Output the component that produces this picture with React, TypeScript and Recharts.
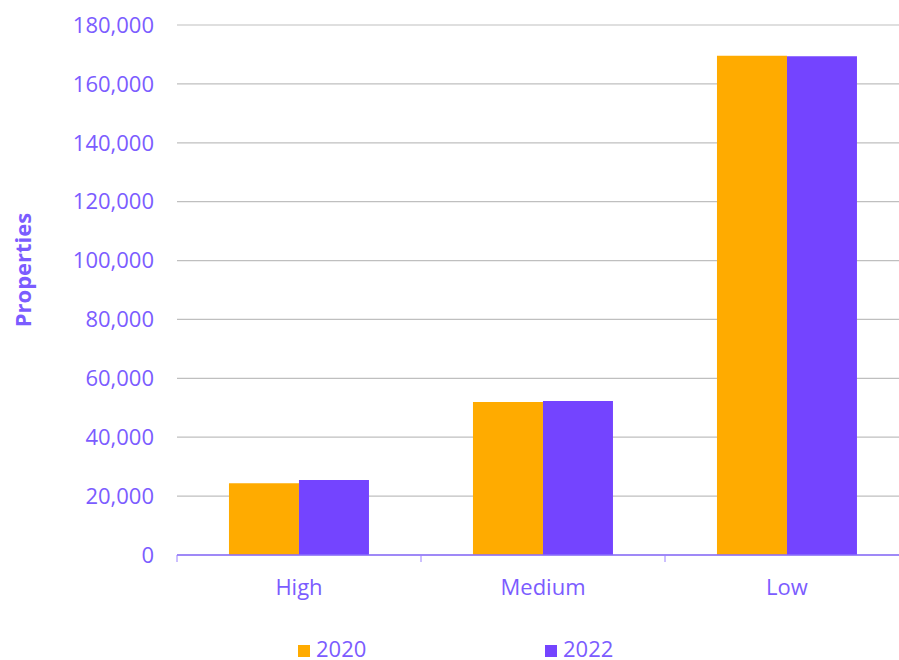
import { BarChart, Bar, XAxis, YAxis, CartesianGrid } from 'recharts';

const categories = ['High', 'Medium', 'Low'];
const values2020 = [24350, 51960, 169570];
const values2022 = [25470, 52300, 169370];
const yTicks = [0, 20000, 40000, 60000, 80000, 100000, 120000, 140000, 160000, 180000];

const ORANGE = '#FFAB00';
const PURPLE = '#7444FF';
const TEXT = '#7B5CFF';
const FONT = '"Open Sans", sans-serif';

const data = categories.map((name, i) => ({
  name,
  y2020: values2020[i],
  y2022: values2022[i],
}));

const fmt = (v: number) => v.toLocaleString('en-US');

// category tick: label at the centre, tick marks at the band edges
function CategoryTick(props: any) {
  const { x, y, payload, index } = props;
  const half = payload?.offset ?? 122;
  const axisY = y - 24;
  return (
    <g>
      <line x1={x - half} x2={x - half} y1={axisY} y2={axisY + 7} stroke="#9A80FF" />
      {index === categories.length - 1 && (
        <line x1={x + half} x2={x + half} y1={axisY} y2={axisY + 7} stroke="#9A80FF" />
      )}
      <text x={x} y={y} dy="0.71em" textAnchor="middle" fill={TEXT} fontSize={22} fontFamily={FONT}>
        {payload.value}
      </text>
    </g>
  );
}

function YLabel(props: any) {
  const { viewBox } = props;
  const cx = viewBox.x + 22;
  const cy = viewBox.y + viewBox.height / 2 - 20;
  return (
    <text
      x={cx}
      y={cy}
      transform={`rotate(-90, ${cx}, ${cy})`}
      textAnchor="middle"
      dominantBaseline="central"
      fill={TEXT}
      fontSize={22}
      fontWeight="bold"
      fontFamily={FONT}
    >
      Properties
    </text>
  );
}

const legendItems = [
  { label: '2020', color: ORANGE, left: 298 },
  { label: '2022', color: PURPLE, left: 545 },
];

export default function App() {
  return (
    <div
      style={{
        position: 'absolute',
        left: 0,
        top: 0,
        width: 899,
        height: 660,
        overflow: 'hidden',
        background: '#fff',
        fontFamily: FONT,
      }}
    >
      <BarChart
        width={899}
        height={620}
        data={data}
        margin={{ top: 25, right: -10, bottom: 0, left: 0 }}
        barCategoryGap="21.3%"
        barGap={0}
        style={{ overflow: 'hidden' }}
      >
        <CartesianGrid vertical={false} stroke="#BFBFBF" strokeWidth={1.2} />
        <XAxis
          dataKey="name"
          height={65}
          tickLine={false}
          axisLine={{ stroke: '#8A6CFF', strokeWidth: 1.5 }}
          tickSize={6}
          tickMargin={18}
          tick={<CategoryTick />}
          interval={0}
        />
        <YAxis
          width={177}
          domain={[0, 180000]}
          ticks={yTicks}
          tickFormatter={fmt}
          axisLine={false}
          tickLine={false}
          tickMargin={17}
          tick={{ fill: TEXT, fontSize: 22, fontFamily: FONT }}
          label={<YLabel />}
        />
        <Bar dataKey="y2020" name="2020" fill={ORANGE} isAnimationActive={false} />
        <Bar dataKey="y2022" name="2022" fill={PURPLE} isAnimationActive={false} />
      </BarChart>
      {legendItems.map((it) => (
        <div
          key={it.label}
          style={{ position: 'absolute', left: it.left, top: 638, display: 'flex', alignItems: 'flex-start' }}
        >
          <span
            style={{ width: 12, height: 12, background: it.color, display: 'inline-block', marginTop: 7, marginRight: 6 }}
          />
          <span style={{ color: TEXT, fontSize: 22, lineHeight: '20px' }}>{it.label}</span>
        </div>
      ))}
    </div>
  );
}
